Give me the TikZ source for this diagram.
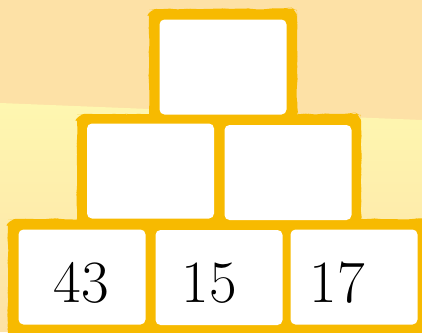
\documentclass[tikz,border=0pt]{standalone}
\usetikzlibrary{decorations.pathmorphing}
\definecolor{sandtop}{RGB}{253,225,166}
\definecolor{sandlight}{RGB}{254,247,176}
\definecolor{frameyellow}{RGB}{247,186,0}
\begin{document}
\begin{tikzpicture}[x=1pt,y=-1pt,
  frame/.style={fill=frameyellow,rounded corners=7pt,
    decoration={random steps,segment length=6pt,amplitude=0.6pt},decorate},
  brick/.style={fill=white,rounded corners=5pt,inner sep=0pt,
    minimum width=127pt,minimum height=95pt},
  num/.style={anchor=base,font=\fontsize{60}{60}\selectfont}]
\useasboundingbox (0,0) rectangle (422,332);
\pgfmathsetseed{7}
% background
\fill[sandtop] (0,0) rectangle (422,332);
\shade[top color=sandlight,bottom color=sandtop] (0,103) -- (422,120) -- (422,332) -- (0,332) -- cycle;

% yellow frames
\fill[frame] (149,9) rectangle (297,122);
\fill[frame] (77,114) rectangle (361,227);
\fill[frame] (8,219) rectangle (436,346);

% bricks
\node[brick] (top)  at (223,67)    {};
\node[brick] (midL) at (150.5,171) {};
\node[brick] (midR) at (288,172.5) {};
\node[brick] (botL) at (82,277)    {};
\node[brick] (botM) at (219,277.5) {};
\node[brick] (botR) at (354,277)   {};

% numbers
\node[num] (n43) at (81,302)  {43};
\node[num] (n15) at (209,302) {15};
\node[num] (n17) at (337,302) {17};
\end{tikzpicture}
\end{document}
